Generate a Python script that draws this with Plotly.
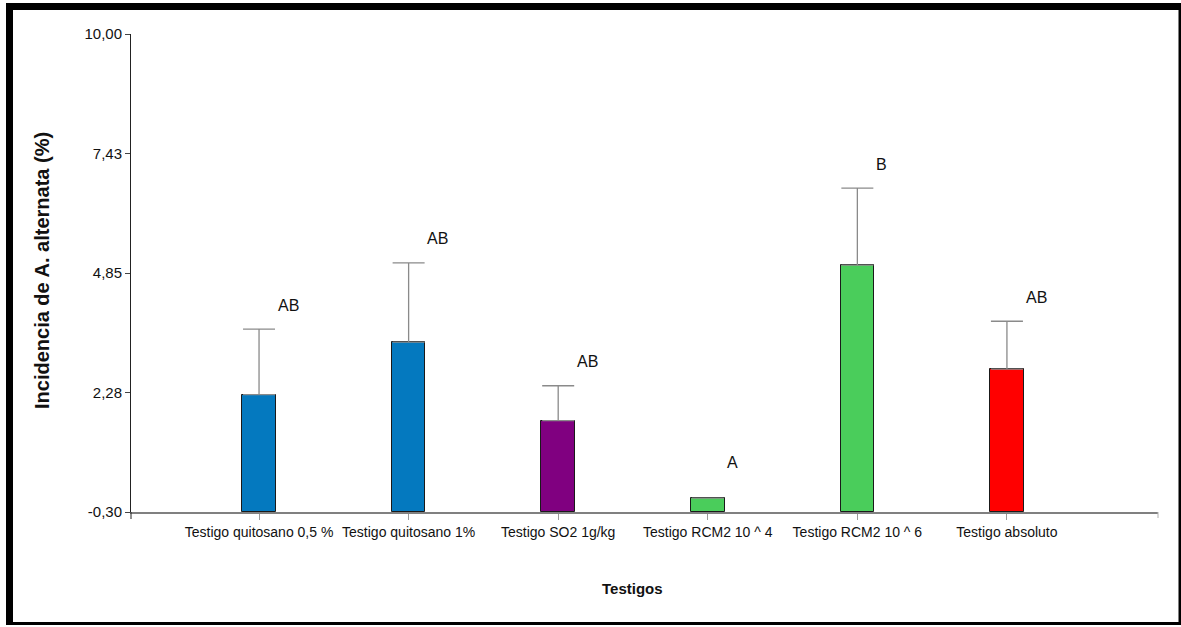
import plotly.graph_objects as go

# ---- data ----
categories = ["Testigo quitosano 0,5 %", "Testigo quitosano 1%", "Testigo SO2 1g/kg",
              "Testigo RCM2 10 ^ 4", "Testigo RCM2 10 ^ 6", "Testigo absoluto"]
means = [2.23, 3.36, 1.67, 0.00, 5.02, 2.78]
errors = [1.41, 1.71, 0.75, 0.00, 1.66, 1.03]
letters = ["AB", "AB", "AB", "A", "B", "AB"]
bar_colors = ["#0479BF", "#0479BF", "#800080", "#4ACD5B", "#4ACD5B", "#FF0000"]
y_ticks = [-0.30, 2.28, 4.85, 7.43, 10.00]
y_tick_labels = ["-0,30", "2,28", "4,85", "7,43", "10,00"]
x_title = "Testigos"
y_title = "Incidencia de A. alternata (%)"

W, H = 1181, 627
L, R, T, B = 131, 23, 34, 115
PW, PH = W - L - R, H - T - B

y_min, y_max = y_ticks[0], y_ticks[-1]
xpos = list(range(len(categories)))

FONT = "Liberation Sans, Arial, sans-serif"


def px(x):
    return (x - L) / PW


def py(y):
    return 1 - (y - T) / PH


fig = go.Figure()
fig.add_trace(go.Bar(
    x=xpos,
    y=[m - y_min for m in means],
    base=[y_min] * len(means),
    width=0.224,
    marker=dict(color=bar_colors, line=dict(color="#1a1a1a", width=1)),
    error_y=dict(type="data", array=errors, symmetric=False,
                 arrayminus=[0] * len(errors),
                 color="#8a8a8a", thickness=1.3, width=16),
    showlegend=False,
    hoverinfo="skip",
))

for i, (m, e, lab) in enumerate(zip(means, errors, letters)):
    fig.add_annotation(x=xpos[i] + 0.112, y=m + e, text=lab, showarrow=False,
                       xanchor="left", yanchor="middle", yshift=24 if e > 0 else 36,
                       font=dict(family=FONT, size=16, color="#111111"))

# axis titles
fig.add_annotation(xref="paper", yref="paper", x=px(632), y=py(588), text=f"<b>{x_title}</b>",
                   showarrow=False, xanchor="center", yanchor="middle",
                   font=dict(family=FONT, size=15, color="#111111"))
fig.add_annotation(xref="paper", yref="paper", x=px(42), y=py(271), text=f"<b>{y_title}</b>",
                   showarrow=False, textangle=-90, xanchor="center", yanchor="middle",
                   font=dict(family=FONT, size=20, color="#111111"))

# frame around the image
frame = [(6, 3, 1181, 10), (6, 3, 13, 625), (1178.5, 3, 1181, 625), (6, 622, 1181, 625)]
for x0, y0, x1, y1 in frame:
    fig.add_shape(type="rect", xref="paper", yref="paper",
                  x0=px(x0), x1=px(x1), y0=py(y1), y1=py(y0),
                  fillcolor="#000000", line=dict(width=0), layer="above")
# right-end tick of x axis
fig.add_shape(type="line", xref="paper", yref="paper", x0=1, x1=1, y0=0, y1=py(518),
              line=dict(color="#b0b0b0", width=1))
# y axis small extension below
fig.add_shape(type="line", xref="paper", yref="paper", x0=0, x1=0, y0=0, y1=py(519),
              line=dict(color="#222222", width=1))

fig.update_layout(
    width=W, height=H,
    margin=dict(l=L, r=R, t=T, b=B, autoexpand=False),
    plot_bgcolor="white", paper_bgcolor="white",
    bargap=0,
    xaxis=dict(range=[-0.856, 6.01], tickmode="array", tickvals=xpos, ticktext=categories,
               automargin=False, tickangle=0,
               showgrid=False, zeroline=False, showline=True, linecolor="#808080", linewidth=2,
               ticks="outside", ticklen=6, tickcolor="#9a9a9a", tickwidth=1,
               tickfont=dict(family=FONT, size=14, color="#111111")),
    yaxis=dict(range=[y_min, y_max], tickmode="array", tickvals=y_ticks, ticktext=y_tick_labels,
               automargin=False,
               showgrid=False, zeroline=False, showline=True, linecolor="#222222", linewidth=1,
               ticks="outside", ticklen=5, tickcolor="#444444",
               tickfont=dict(family=FONT, size=15, color="#111111")),
)

fig.write_html("out.html", config={"displayModeBar": False},
               post_script="document.body.style.margin='0';document.body.style.overflow='hidden';")
